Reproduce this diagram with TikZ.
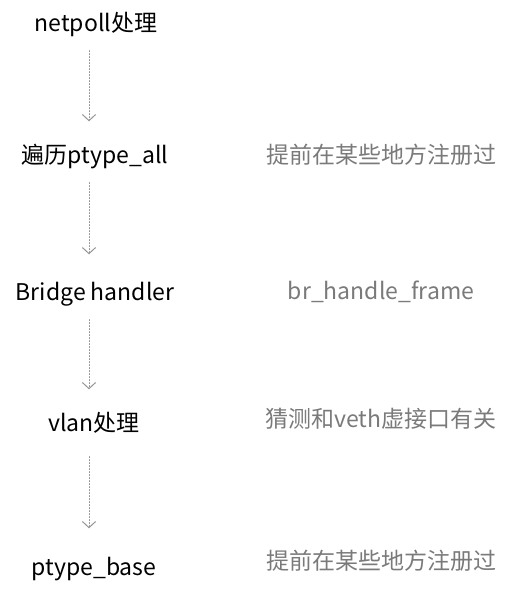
\documentclass[tikz,border=0pt]{standalone}
\usepackage{fontspec}
\setmainfont{Noto Sans CJK SC}
\usetikzlibrary{arrows.meta}
\begin{document}
\begin{tikzpicture}[x=1pt,y=-1pt,line join=round,line cap=round,font=\fontsize{23}{26}\selectfont,
  stage/.style={inner sep=0pt,text height=17.5pt,text depth=5.5pt,text=black,yshift=-3pt},
  note/.style={inner sep=0pt,text height=17.5pt,text depth=5.5pt,text=black!52,yshift=-3pt},
  flow/.style={draw=black!42,line width=1pt,dash pattern=on 1pt off 2pt,-{Straight Barb[length=6pt,width=13pt,line cap=round]},shorten <=14pt,shorten >=24pt}]
\useasboundingbox (0,0) rectangle (512,595);
\path
(89,0) coordinate (ax)
(96,22) node[stage] (netpoll) {netpoll处理}
(95,154) node[stage] (ptall) {遍历ptype\_all}
(95,291) node[stage] (bridge) {Bridge handler}
(94,422) node[stage] (vlan) {vlan处理}
(94,566) node[stage] (ptbase) {ptype\_base}
(381,154) node[note] (reg1) {提前在某些地方注册过}
(381,290) node[note] (brh) {br\_handle\_frame}
(381,418) node[note] (veth) {猜测和veth虚接口有关}
(381,560) node[note] (reg2) {提前在某些地方注册过}
;
\draw[flow] (netpoll.south -| ax) -- (ptall.north -| ax);
\draw[flow,shorten >=28pt] (ptall.south -| ax) -- (bridge.north -| ax);
\draw[flow] (bridge.south -| ax) -- (vlan.north -| ax);
\draw[flow,shorten <=20pt,shorten >=29pt] (vlan.south -| ax) -- (ptbase.north -| ax);
\end{tikzpicture}
\end{document}
